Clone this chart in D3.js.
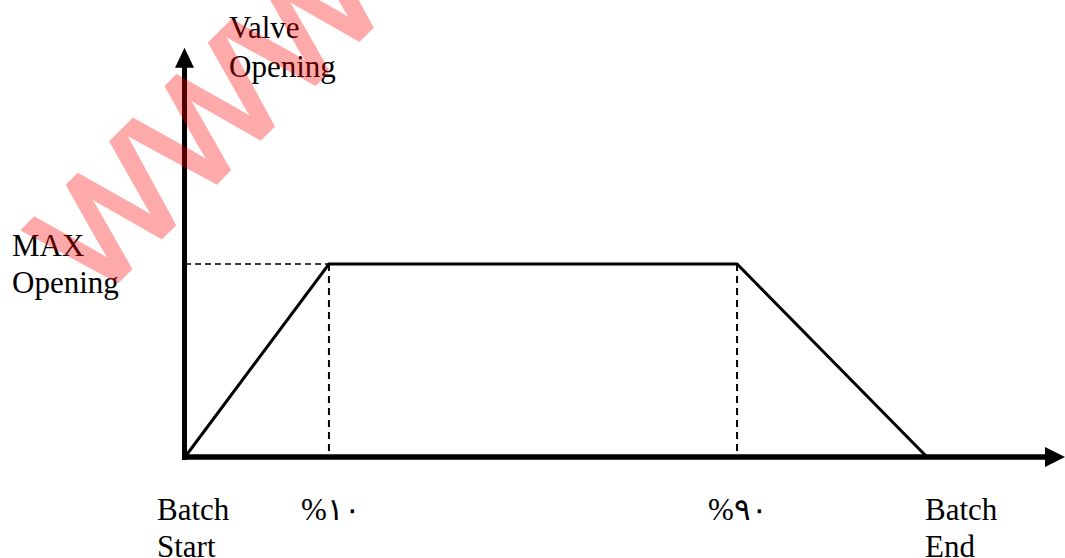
<!DOCTYPE html>
<html><head><meta charset="utf-8">
<script src="https://cdn.jsdelivr.net/npm/d3@7"></script>
<style>body{margin:0;background:#fff;overflow:hidden}</style>
</head><body>
<svg id="c" width="1065" height="558"></svg>
<script>
// data (time in % of batch, opening in % of max)
const time = [0, 19.4, 74.4, 100];
const opening = [0, 100, 100, 0];
const tickValues = [0, 19.4, 74.4, 100];
const tickLabels = [["Batch", "Start"], ["%١٠"], ["%٩٠"], ["Batch", "End"]];
const yTitle = ["Valve", "Opening"];
const maxTitle = ["MAX", "Opening"];
const xAxisEnd = 118.6;
const yAxisEnd = 212;
const watermark = "WWW";

const svg = d3.select("#c");
const x = d3.scaleLinear().domain([0, 100]).range([185, 927]);
const y = d3.scaleLinear().domain([0, 100]).range([457, 264]);
const serif = "'Liberation Serif','Times New Roman',serif";

// dashed guides
const peaks = time.map((t, i) => ({t, v: opening[i]})).filter(d => d.v === 100);
svg.append("line")
  .attr("x1", x(0)).attr("x2", x(peaks[0].t))
  .attr("y1", y(100)).attr("y2", y(100))
  .attr("stroke", "#000").attr("stroke-width", 1.5).attr("stroke-dasharray", "6,4");
svg.selectAll("line.vg").data(peaks).enter().append("line").attr("class", "vg")
  .attr("x1", d => x(d.t)).attr("x2", d => x(d.t))
  .attr("y1", d => y(d.v)).attr("y2", y(0))
  .attr("stroke", "#000").attr("stroke-width", 2).attr("stroke-dasharray", "7,5");

// trapezoid
const line = d3.line().x((d, i) => x(time[i])).y(d => y(d));
svg.append("path").datum(opening).attr("d", line)
  .attr("fill", "none").attr("stroke", "#000").attr("stroke-width", 3)
  .attr("stroke-linejoin", "miter");

// axes with arrows
const x0 = x(0) - 0.5, y0 = y(0);
svg.append("line").attr("x1", x0).attr("x2", x0).attr("y1", y0 + 3).attr("y2", y(yAxisEnd) + 18)
  .attr("stroke", "#000").attr("stroke-width", 5);
svg.append("path")
  .attr("d", `M${x0},${y(yAxisEnd)} L${x0 + 9.5},${y(yAxisEnd) + 20} L${x0 - 9.5},${y(yAxisEnd) + 20}Z`)
  .attr("fill", "#000");
svg.append("line").attr("x1", x0 - 2.5).attr("x2", x(xAxisEnd) - 18).attr("y1", y0).attr("y2", y0)
  .attr("stroke", "#000").attr("stroke-width", 5.5);
svg.append("path")
  .attr("d", `M${x(xAxisEnd)},${y0} L${x(xAxisEnd) - 20},${y0 - 10} L${x(xAxisEnd) - 20},${y0 + 10}Z`)
  .attr("fill", "#000");

// tick labels
const tickDx = [-28, -28, -29, -2];
tickValues.forEach((v, i) => {
  const t = svg.append("text").attr("x", x(v) + tickDx[i]).attr("y", 520)
    .attr("font-family", serif).attr("font-size", 31).attr("fill", "#000");
  tickLabels[i].forEach((s, j) => {
    t.append("tspan").attr("x", x(v) + tickDx[i]).attr("y", 520 + j * 37).text(s);
  });
});

// titles
const yt = svg.append("text").attr("font-family", serif).attr("font-size", 31).attr("fill", "#000");
yTitle.forEach((s, j) => yt.append("tspan").attr("x", 229).attr("y", 38 + j * 39).text(s));
const mt = svg.append("text").attr("font-family", serif).attr("font-size", 31).attr("fill", "#000");
maxTitle.forEach((s, j) => mt.append("tspan").attr("x", 12).attr("y", 256 + j * 37).text(s));

// watermark
svg.append("g").attr("opacity", 0.33)
  .append("text").text(watermark)
  .attr("transform", "translate(96,302) rotate(-45)")
  .attr("font-family", "'Liberation Sans',Arial,sans-serif")
  .attr("font-size", 148)
  .attr("fill", "#ff0000").attr("stroke", "#ff0000").attr("stroke-width", 5)
  .attr("stroke-linejoin", "miter");
</script>
</body></html>
